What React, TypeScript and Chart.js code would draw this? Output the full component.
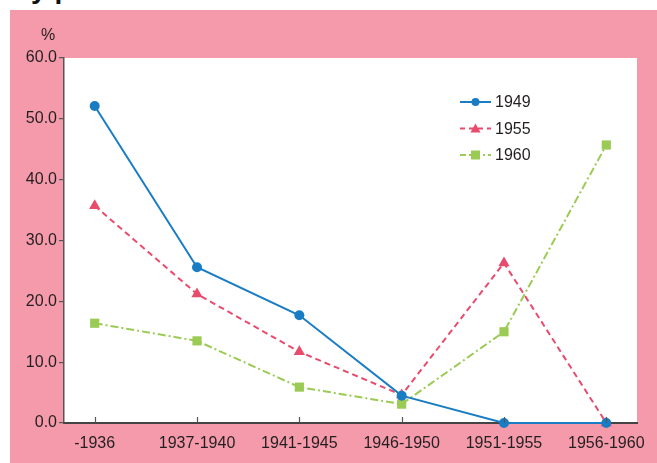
import React, { useEffect, useRef } from "react";
import { Chart, registerables } from "chart.js";

Chart.register(...registerables);

const categories = ["-1936", "1937-1940", "1941-1945", "1946-1950", "1951-1955", "1956-1960"];
const series1949 = [52.1, 25.6, 17.7, 4.5, 0, 0];
const series1955 = [35.7, 21.2, 11.7, 4.6, 26.3, 0];
const series1960 = [16.4, 13.5, 5.9, 3.1, 15.0, 45.7];
const yTicks = [0, 10, 20, 30, 40, 50, 60];

const FONT = '"Liberation Sans", Arial, sans-serif';
const TEXT = "#231f20";
const BLUE = "#1a7dc3";
const RED = "#e94b6d";
const GREEN = "#9ccb55";

const toPoints = (arr: number[]) => arr.map((v, i) => ({ x: i, y: v }));

export default function App() {
  const ref = useRef<HTMLCanvasElement | null>(null);
  useEffect(() => {
    if (!ref.current) return;
    const legendItems = [
      { label: "1949", color: BLUE, dash: [] as number[], style: "circle", r: 4 },
      { label: "1955", color: RED, dash: [5, 4], style: "triangle", r: 5 },
      { label: "1960", color: GREEN, dash: [6, 3, 2, 3], style: "rect", r: 4.5 },
    ];
    const extras = {
      id: "extras",
      afterDraw(chart: any) {
        const ctx = chart.ctx;
        const xs = chart.scales.x;
        const area = chart.chartArea;
        ctx.save();
        ctx.strokeStyle = "#555";
        ctx.lineWidth = 1.2;
        categories.forEach((_, i) => {
          const px = Math.round(xs.getPixelForValue(i)) + 0.5;
          ctx.beginPath();
          ctx.moveTo(px, area.bottom);
          ctx.lineTo(px, area.bottom - 6);
          ctx.stroke();
        });
        ctx.fillStyle = TEXT;
        ctx.font = `16px ${FONT}`;
        ctx.textAlign = "center";
        ctx.textBaseline = "middle";
        ctx.fillText("%", 38, 26);
        legendItems.forEach((it, k) => {
          const y = 92 + k * 26.5;
          const x0 = 450, x1 = 481, xm = 465.5;
          ctx.strokeStyle = it.color;
          ctx.lineWidth = 2;
          ctx.setLineDash(it.dash);
          ctx.beginPath();
          ctx.moveTo(x0, y);
          ctx.lineTo(x1, y);
          ctx.stroke();
          ctx.setLineDash([]);
          ctx.fillStyle = it.color;
          ctx.beginPath();
          if (it.style === "circle") {
            ctx.arc(xm, y, it.r, 0, Math.PI * 2);
          } else if (it.style === "triangle") {
            ctx.moveTo(xm, y - 5);
            ctx.lineTo(xm + 5, y + 4);
            ctx.lineTo(xm - 5, y + 4);
            ctx.closePath();
          } else {
            ctx.rect(xm - it.r, y - it.r, it.r * 2, it.r * 2);
          }
          ctx.fill();
          ctx.fillStyle = TEXT;
          ctx.font = `16px ${FONT}`;
          ctx.textAlign = "left";
          ctx.fillText(it.label, 485, y + 1);
        });
        ctx.restore();
      },
    };
    const chart = new Chart(ref.current, {
      type: "line",
      data: {
        datasets: [
          {
            label: "1949",
            data: toPoints(series1949),
            borderColor: BLUE,
            backgroundColor: BLUE,
            borderWidth: 2,
            pointStyle: "circle",
            pointRadius: 5,
            pointBorderWidth: 0,
            tension: 0,
          },
          {
            label: "1955",
            data: toPoints(series1955),
            borderColor: RED,
            backgroundColor: RED,
            borderWidth: 2,
            borderDash: [6, 4],
            pointStyle: "triangle",
            pointRadius: 6.5,
            pointBorderWidth: 0,
            tension: 0,
          },
          {
            label: "1960",
            data: toPoints(series1960),
            borderColor: GREEN,
            backgroundColor: GREEN,
            borderWidth: 2,
            borderDash: [8, 3, 2, 3],
            pointStyle: "rect",
            pointRadius: 6.5,
            pointBorderWidth: 0,
            tension: 0,
          },
        ],
      },
      options: {
        animation: false,
        responsive: false,
        clip: false as any,
        layout: { padding: { top: 48, right: 20, left: 0, bottom: 0 } },
        plugins: { legend: { display: false }, tooltip: { enabled: false } },
        scales: {
          x: {
            type: "linear",
            min: -0.3,
            max: 5.3,
            afterBuildTicks: (s: any) => {
              s.ticks = categories.map((_, i) => ({ value: i }));
            },
            afterFit: (s: any) => {
              s.height = 40;
            },
            grid: { display: false, drawTicks: false },
            border: { display: true, color: "#444", width: 2 },
            ticks: {
              autoSkip: false,
              maxRotation: 0,
              padding: 11,
              color: TEXT,
              font: { family: FONT, size: 16 },
              callback: (v: any) => categories[v] ?? "",
            },
          },
          y: {
            type: "linear",
            min: 0,
            max: 60,
            afterBuildTicks: (s: any) => {
              s.ticks = yTicks.map((v) => ({ value: v }));
            },
            afterFit: (s: any) => {
              s.width = 54;
            },
            grid: { drawOnChartArea: false, drawTicks: true, tickLength: 5, color: "#555", lineWidth: 1.2 },
            border: { display: true, color: "#555", width: 1.5 },
            ticks: {
              padding: 2,
              color: TEXT,
              font: { family: FONT, size: 16 },
              callback: (v: any) => Number(v).toFixed(1),
            },
          },
        },
      },
      plugins: [extras],
    });
    return () => chart.destroy();
  }, []);

  return (
    <div style={{ position: "fixed", left: 0, top: 0, width: 657, height: 463, background: "#fff", overflow: "hidden" }}>
      <div
        style={{
          position: "absolute",
          left: 14,
          top: -26,
          fontFamily: FONT,
          fontWeight: "bold",
          fontSize: 28,
          lineHeight: "30px",
          color: "#111",
          whiteSpace: "nowrap",
        }}
      >
        by period
      </div>
      <div style={{ position: "absolute", left: 10, top: 10, width: 647, height: 453, background: "#f49aab" }}>
        <div style={{ position: "absolute", left: 54, top: 48, width: 573, height: 365, background: "#fff" }} />
        <canvas ref={ref} width={647} height={453} style={{ position: "absolute", left: 0, top: 0, width: 647, height: 453 }} />
      </div>
    </div>
  );
}
